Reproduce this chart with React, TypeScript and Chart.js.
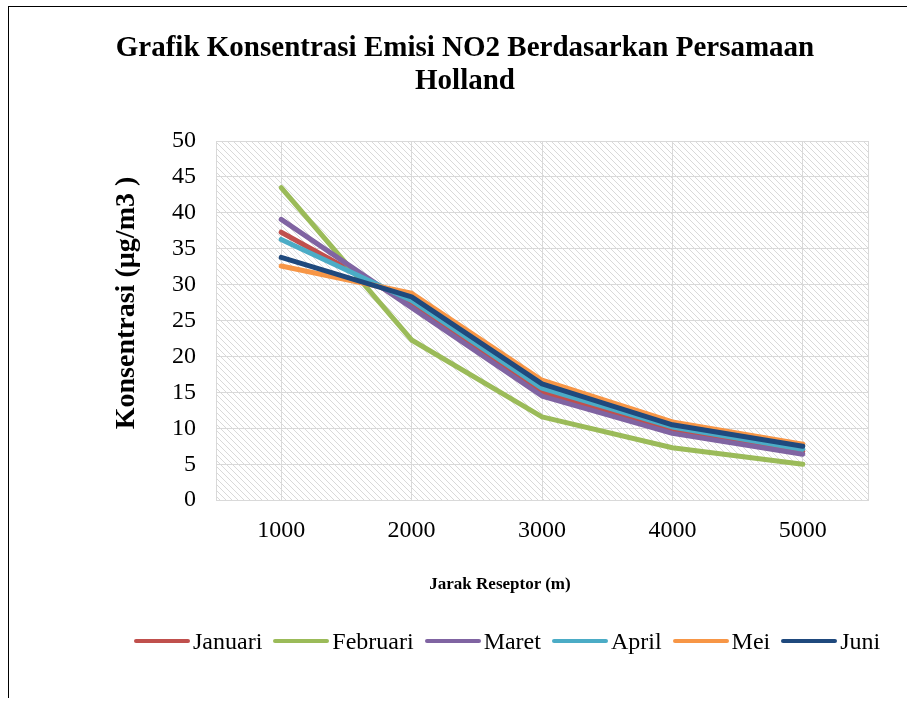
import React, { useEffect, useRef } from "react";
import { Chart, registerables } from "chart.js";
Chart.register(...registerables);

const categories = ["1000", "2000", "3000", "4000", "5000"];
const januari = [37.3, 27.3, 15.0, 9.7, 6.8];
const februari = [43.5, 22.3, 11.6, 7.3, 5.0];
const maret = [39.1, 26.8, 14.5, 9.3, 6.4];
const april = [36.3, 27.8, 15.6, 10.2, 7.1];
const mei = [32.6, 28.8, 16.7, 10.9, 7.8];
const juni = [33.8, 28.3, 16.2, 10.5, 7.5];
const seriesNames = ["Januari", "Februari", "Maret", "April", "Mei", "Juni"];
const seriesValues = [januari, februari, maret, april, mei, juni];
const seriesColors = ["#C0504D", "#9BBB59", "#8064A2", "#4BACC6", "#F79646", "#1F497D"];
const yMin = 0;
const yMax = 50;
const yStep = 5;
const titleLines = ["Grafik Konsentrasi Emisi NO2 Berdasarkan Persamaan", "Holland"];
const xTitle = "Jarak Reseptor (m)";
const yTitle = "Konsentrasi (µg/m3 )";

const FONT = "'Liberation Serif', 'Times New Roman', serif";

function makePattern(): CanvasPattern | string {
  const size = 6;
  const c = document.createElement("canvas");
  c.width = size;
  c.height = size;
  const ctx = c.getContext("2d");
  if (!ctx) return "#fff";
  ctx.fillStyle = "#ffffff";
  ctx.fillRect(0, 0, size, size);
  ctx.strokeStyle = "#d9d9d9";
  ctx.lineWidth = 1;
  ctx.beginPath();
  ctx.moveTo(-1, -1);
  ctx.lineTo(size + 1, size + 1);
  ctx.moveTo(-1, size - 1);
  ctx.lineTo(1, size + 1);
  ctx.moveTo(size - 1, -1);
  ctx.lineTo(size + 1, 1);
  ctx.stroke();
  const p = ctx.createPattern(c, "repeat");
  return p || "#fff";
}

const bgPlugin = {
  id: "hatchBg",
  beforeDraw(chart: any) {
    const { ctx, chartArea } = chart;
    if (!chartArea) return;
    ctx.save();
    ctx.fillStyle = makePattern();
    ctx.fillRect(chartArea.left, chartArea.top, chartArea.right - chartArea.left, chartArea.bottom - chartArea.top);
    ctx.restore();
  },
  afterDraw(chart: any) {
    const { ctx, chartArea } = chart;
    ctx.save();
    ctx.strokeStyle = "#d9d9d9";
    ctx.lineWidth = 1;
    ctx.strokeRect(
      Math.round(chartArea.left) + 0.5,
      Math.round(chartArea.top) + 0.5,
      Math.round(chartArea.right - chartArea.left),
      Math.round(chartArea.bottom - chartArea.top)
    );
    ctx.restore();
  },
};

export default function App() {
  const ref = useRef<HTMLCanvasElement | null>(null);
  useEffect(() => {
    if (!ref.current) return;
    const chart = new Chart(ref.current, {
      type: "line",
      data: {
        labels: categories,
        datasets: seriesNames.map((name, i) => ({
          label: name,
          data: seriesValues[i],
          borderColor: seriesColors[i],
          backgroundColor: seriesColors[i],
          borderWidth: 5,
          pointRadius: 0,
          tension: 0,
          fill: false,
          borderCapStyle: "round" as const,
          borderJoinStyle: "round" as const,
          order: seriesNames.length - i,
        })),
      },
      options: {
        responsive: false,
        animation: false,
        devicePixelRatio: 1,
        layout: { padding: { left: 143, right: 39, top: 134, bottom: 46 } },
        plugins: {
          legend: { display: false },
          tooltip: { enabled: false },
          title: { display: false },
        },
        scales: {
          x: {
            offset: true,
            grid: { color: "#d9d9d9", lineWidth: 1, offset: false, drawTicks: false },
            border: { color: "#d9d9d9" },
            ticks: { color: "#000", font: { family: FONT, size: 24 }, padding: 16, maxRotation: 0 },
            title: { display: false },
          },
          y: {
            min: yMin,
            max: yMax,
            grid: { color: "#d9d9d9", lineWidth: 1, drawTicks: false },
            border: { color: "#d9d9d9" },
            ticks: { stepSize: yStep, color: "#000", font: { family: FONT, size: 24 }, padding: 20 },
            title: { display: false },
          },
        },
      },
      plugins: [bgPlugin],
    });
    return () => chart.destroy();
  }, []);

  return (
    <div
      style={{
        position: "fixed",
        left: 8,
        top: 6,
        width: 910,
        height: 691,
        borderLeft: "1px solid #000",
        borderTop: "1px solid #000",
        fontFamily: FONT,
        color: "#000",
      }}
    >
      <canvas
        ref={ref}
        width={898}
        height={600}
        style={{ position: "absolute", left: 0, top: 0, width: 898, height: 600 }}
      />
      <div
        style={{
          position: "absolute",
          left: 0,
          top: 23,
          width: 912,
          textAlign: "center",
          fontSize: 29,
          fontWeight: "bold",
          lineHeight: "33px",
          whiteSpace: "nowrap",
        }}
      >
        {titleLines.map((t) => (
          <div key={t}>{t}</div>
        ))}
      </div>
      <div
        style={{
          position: "absolute",
          left: -84,
          top: 279,
          width: 400,
          height: 34,
          lineHeight: "34px",
          textAlign: "center",
          fontSize: 28,
          fontWeight: "bold",
          whiteSpace: "nowrap",
          transform: "rotate(-90deg)",
          transformOrigin: "50% 50%",
        }}
      >
        {yTitle}
      </div>
      <div
        style={{
          position: "absolute",
          left: 391,
          top: 565,
          width: 200,
          textAlign: "center",
          fontSize: 17,
          fontWeight: "bold",
          lineHeight: "24px",
          whiteSpace: "nowrap",
        }}
      >
        {xTitle}
      </div>
      <div
        style={{
          position: "absolute",
          left: 125,
          top: 619,
          display: "flex",
          alignItems: "center",
          fontSize: 24,
          lineHeight: "30px",
          whiteSpace: "nowrap",
        }}
      >
        {seriesNames.map((name, i) => (
          <div key={name} style={{ display: "flex", alignItems: "center", marginRight: 11 }}>
            <span
              style={{
                display: "inline-block",
                width: 56,
                height: 4,
                borderRadius: 2,
                background: seriesColors[i],
                marginRight: 3,
              }}
            />
            <span>{name}</span>
          </div>
        ))}
      </div>
    </div>
  );
}
